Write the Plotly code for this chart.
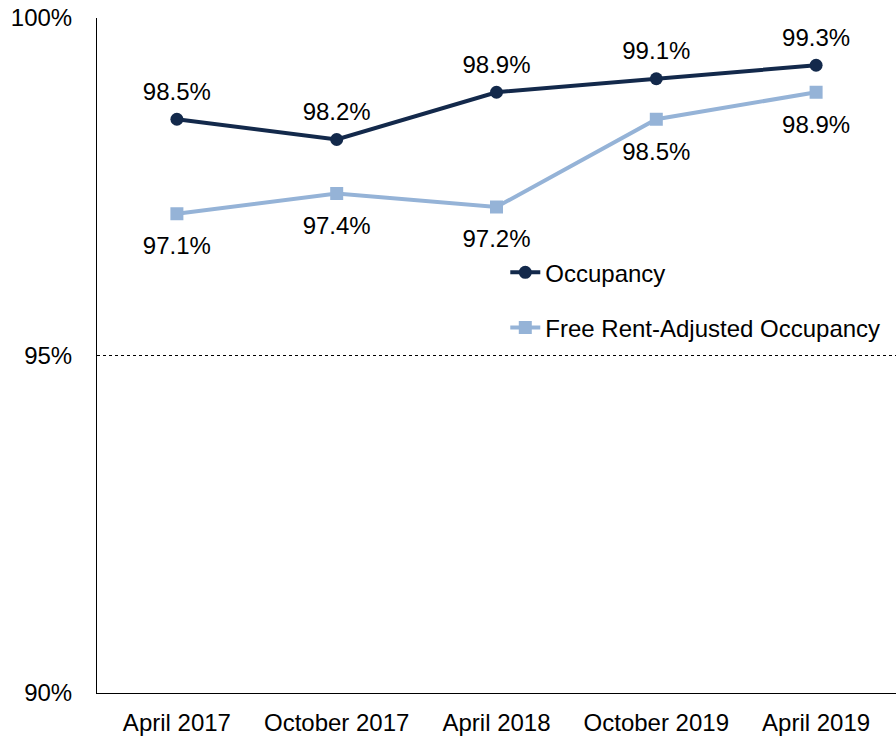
import plotly.graph_objects as go

periods = ["April 2017", "October 2017", "April 2018", "October 2019", "April 2019"]
occupancy = [98.5, 98.2, 98.9, 99.1, 99.3]
free_rent_adjusted = [97.1, 97.4, 97.2, 98.5, 98.9]

navy = "#13294B"
light_blue = "#95B3D7"
font_family = "Liberation Sans, Arial, sans-serif"
fs = 24

fig = go.Figure()
fig.add_trace(go.Scatter(
    x=periods, y=occupancy, name="Occupancy",
    mode="lines+markers",
    line=dict(color=navy, width=4),
    marker=dict(symbol="circle", size=13, color=navy),
    legendgroup="a",
))
fig.add_trace(go.Scatter(
    x=periods, y=free_rent_adjusted, name="Free Rent-Adjusted Occupancy",
    mode="lines+markers",
    line=dict(color=light_blue, width=4),
    marker=dict(symbol="square", size=13, color=light_blue),
    legendgroup="b",
))

# Value labels: transparent markers set the gap between point and text
for values, pos, gap in [(occupancy, "top center", 20), (free_rent_adjusted, "bottom center", 34)]:
    fig.add_trace(go.Scatter(
        x=periods, y=values, mode="markers+text",
        marker=dict(size=gap, color="rgba(0,0,0,0)"),
        text=[f"{v:.1f}%" for v in values],
        textposition=pos,
        textfont=dict(size=fs, color="black", family=font_family),
        showlegend=False, hoverinfo="skip",
    ))

fig.update_layout(
    width=896, height=739,
    margin=dict(l=97, r=0, t=18, b=46),
    paper_bgcolor="white", plot_bgcolor="white",
    font=dict(family=font_family, size=fs, color="black"),
    showlegend=True,
    legend=dict(
        x=0.511, y=0.656, xanchor="left", yanchor="top",
        bgcolor="rgba(0,0,0,0)", font=dict(size=fs, color="black"),
        tracegroupgap=21,
    ),
    xaxis=dict(
        range=[-0.5, 4.5],
        showline=True, linecolor="black", linewidth=1,
        showgrid=False, ticks="", ticklabelstandoff=8,
        tickfont=dict(size=fs),
    ),
    yaxis=dict(
        range=[90, 100], dtick=5, ticksuffix="%",
        showline=True, linecolor="black", linewidth=1,
        showgrid=True, gridcolor="black", griddash="dot", gridwidth=1,
        zeroline=False, ticks="", ticklabelstandoff=19,
        tickfont=dict(size=fs),
    ),
)

fig.write_html("out.html")
